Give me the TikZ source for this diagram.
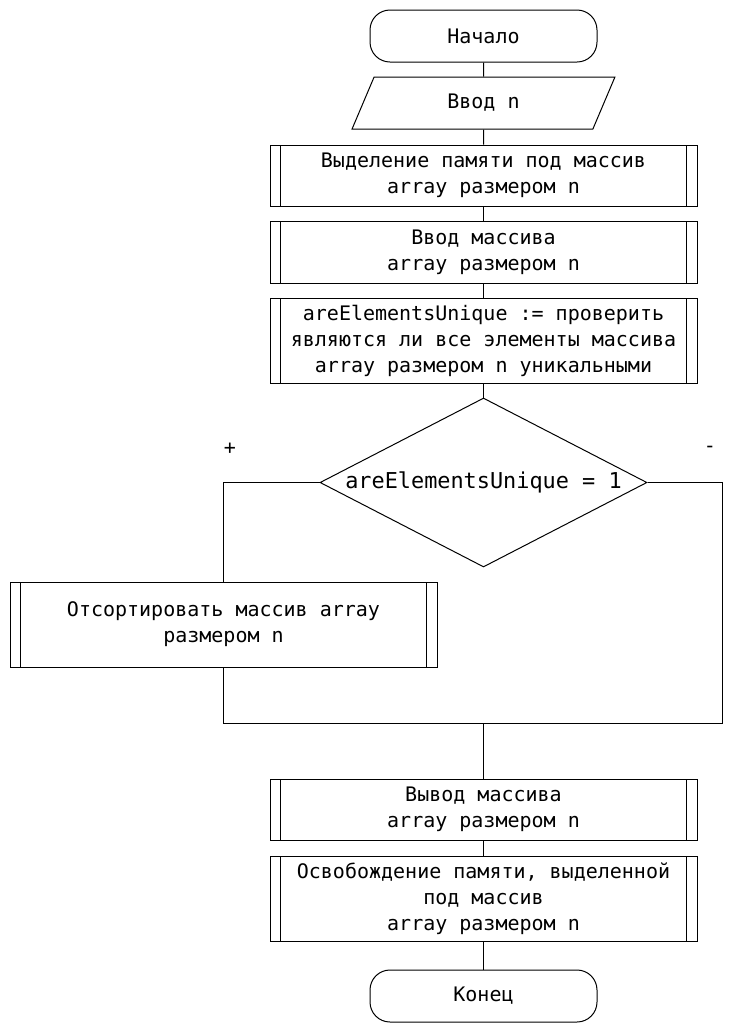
\documentclass[tikz,border=0pt]{standalone}
\usepackage{fontspec}
\setmainfont{DejaVu Sans Mono}
\usepackage{tikz}
\usetikzlibrary{
	shapes.geometric,   %几何形状
	shapes.misc,        %圆角矩形等
	calc                %计算
}
\tikzset{
	every picture/.style={
		line width=0.75pt,
		font=\fontsize{15}{19.5}\selectfont
	},
	terminal/.style={rectangle,draw,rounded corners=15pt,
		minimum width=170.25pt,minimum height=39pt,inner sep=2pt},
	iobox/.style={trapezium,draw,trapezium left angle=71,
		trapezium right angle=109,trapezium stretches=true,
		minimum width=197.25pt,minimum height=39pt,inner sep=2pt},
	subproc/.style={rectangle,draw,align=center,
		minimum width=320.25pt,inner sep=2pt,
		path picture={
			\draw ([xshift=8pt]path picture bounding box.north west)
				-- ([xshift=8pt]path picture bounding box.south west);
			\draw ([xshift=-8pt]path picture bounding box.north east)
				-- ([xshift=-8pt]path picture bounding box.south east);
	}},
	decision/.style={diamond,draw,inner sep=0pt,aspect=1.935,
		font=\fontsize{16.4}{20}\selectfont,
		minimum width=245.25pt,minimum height=126.75pt}
}

\begin{document}
\begin{tikzpicture}[x=0.75pt,y=-0.75pt]
	\useasboundingbox (0,0) rectangle (737,1033);
	\node (start) at (483.5,36) [terminal] {Начало};
	\node (input) at (483.5,103) [iobox] {Ввод n};
	\node (alloc) at (483.5,175.5) [subproc,minimum height=45.75pt]
		{Выделение памяти под массив\\array размером n};
	\node (read) at (483.5,252) [subproc,minimum height=46.5pt]
		{Ввод массива\\array размером n};
	\node (check) at (483.5,340.5) [subproc,minimum height=63.75pt]
		{areElementsUnique := проверить\\являются ли все элементы массива\\array размером n уникальными};
	\node (cond) at (483.5,482.5) [decision] {areElementsUnique = 1};
	\node (plus) at (230,449) {+};
	\node (minus) at (710,449) {-};
	\node (sort) at (223.5,624.5) [subproc,minimum height=63.75pt]
		{Отсортировать массив array\\размером n};
	\node (output) at (483.5,809.5) [subproc,minimum height=45.75pt]
		{Вывод массива\\array размером n};
	\node (free) at (483.5,898.5) [subproc,minimum height=63.75pt]
		{Освобождение памяти, выделенной\\под массив\\array размером n};
	\node (finish) at (483.5,996) [terminal] {Конец};
	\coordinate (merge) at (483.5,723);
	\coordinate (rcorner) at (722,723);
	\draw (start) -- (input);
	\draw (input) -- (alloc);
	\draw (alloc) -- (read);
	\draw (read) -- (check);
	\draw (check) -- (cond);
	\draw (cond.west) -| (sort.north);
	\draw (sort.south) |- (merge);
	\draw (cond.east) -| (rcorner) -- (merge);
	\draw (merge) -- (output);
	\draw (output) -- (free);
	\draw (free) -- (finish);
\end{tikzpicture}
\end{document}
